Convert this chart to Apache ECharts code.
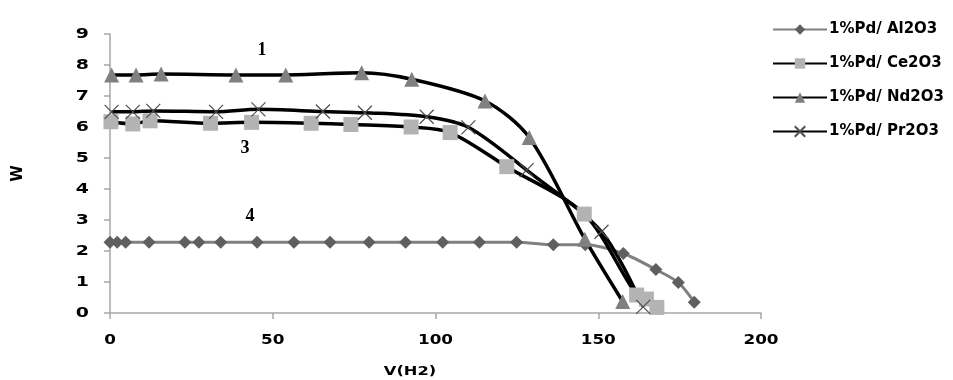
<!DOCTYPE html>
<html><head><meta charset="utf-8">
<script src="https://cdn.jsdelivr.net/npm/echarts@6/dist/echarts.min.js"></script>
<style>html,body{margin:0;padding:0;background:#fff}#c{width:953px;height:380px}</style>
</head><body><div id="c"></div>
<script>
const seriesNames = ['1%Pd/ Al2O3', '1%Pd/ Ce2O3', '1%Pd/ Nd2O3', '1%Pd/ Pr2O3'];
const alX = [0, 2.2, 4.8, 12, 23, 27.3, 34, 45.2, 56.5, 67.6, 79.6, 90.8, 102.2, 113.5, 124.9, 136.2, 146, 157.7, 167.7, 174.6, 179.5];
const alY = [2.28, 2.28, 2.28, 2.28, 2.28, 2.28, 2.28, 2.28, 2.28, 2.28, 2.28, 2.28, 2.28, 2.28, 2.28, 2.2, 2.2, 1.92, 1.4, 0.98, 0.35];
const ceX = [0.3, 7.0, 12.3, 30.9, 43.5, 61.8, 74.0, 92.5, 104.5, 121.9, 145.7, 161.8, 164.8, 168];
const ceY = [6.17, 6.1, 6.2, 6.12, 6.15, 6.12, 6.08, 6.0, 5.82, 4.72, 3.19, 0.58, 0.45, 0.18];
const ndX = [0.5, 8.0, 15.7, 38.7, 54.0, 77.3, 92.7, 115.2, 128.8, 145.9, 157.5];
const ndY = [7.68, 7.68, 7.71, 7.68, 7.68, 7.75, 7.54, 6.84, 5.66, 2.38, 0.37];
const prX = [0.5, 7.0, 13.3, 32.6, 45.6, 65.4, 78.3, 97.3, 110.1, 128.0, 151.0, 163.8];
const prY = [6.49, 6.49, 6.52, 6.49, 6.57, 6.5, 6.46, 6.33, 5.99, 4.61, 2.62, 0.2];
const xTicks = [0, 50, 100, 150, 200];
const yTicks = [0, 1, 2, 3, 4, 5, 6, 7, 8, 9];
const xName = 'V(H2)';
const yName = 'W';
const curveLabels = ['1', '3', '4'];

const pairs = (xs, ys) => xs.map((x, i) => [x, ys[i]]);
const chart = echarts.init(document.getElementById('c'), null, {renderer: 'canvas'});
const bold = {fontFamily: 'DejaVu Sans', fontWeight: 'bold', color: '#000'};
const crossPath = 'path://M0,0L10,10M10,0L0,10';
const tickFont = 'bold 14px "DejaVu Sans"';

chart.setOption({
  animation: false,
  grid: {left: 110, right: 192, top: 34, bottom: 67, containLabel: false, outerBoundsMode: 'none'},
  xAxis: {
    type: 'value', min: xTicks[0], max: xTicks[xTicks.length - 1], interval: 50,
    axisLine: {lineStyle: {color: '#a6a6a6', width: 1.5}},
    axisTick: {show: true, length: 6, lineStyle: {color: '#a6a6a6', width: 1.5}},
    splitLine: {show: false},
    axisLabel: {show: false}
  },
  yAxis: {
    type: 'value', min: yTicks[0], max: yTicks[yTicks.length - 1], interval: 1,
    name: yName, nameLocation: 'middle', nameGap: 84, nameRotate: 90,
    nameTextStyle: Object.assign({fontSize: 15}, bold),
    axisLine: {show: true, lineStyle: {color: '#a6a6a6', width: 1.5}},
    axisTick: {show: true, length: 6, lineStyle: {color: '#a6a6a6', width: 1.5}},
    splitLine: {show: false},
    axisLabel: {show: false}
  },
  legend: {
    orient: 'vertical', left: 767, top: 17, itemGap: 19,
    itemWidth: 54, itemHeight: 13,
    textStyle: Object.assign({fontSize: 15, padding: [0, 0, 0, -3]}, bold),
    data: seriesNames
  },
  series: [
    {name: seriesNames[0], type: 'line', smooth: 0.3, data: pairs(alX, alY),
     symbol: 'diamond', symbolSize: 13, showAllSymbol: true,
     lineStyle: {color: '#808080', width: 3}, itemStyle: {color: '#5f5f5f'}},
    {name: seriesNames[1], type: 'line', smooth: 0.3, data: pairs(ceX, ceY),
     symbol: 'rect', symbolSize: 15, showAllSymbol: true,
     lineStyle: {color: '#000', width: 3.5}, itemStyle: {color: '#b3b3b3'}},
    {name: seriesNames[2], type: 'line', smooth: 0.3, data: pairs(ndX, ndY),
     symbol: 'triangle', symbolSize: 15, showAllSymbol: true,
     lineStyle: {color: '#000', width: 3.5}, itemStyle: {color: '#808080'}},
    {name: seriesNames[3], type: 'line', smooth: 0.3, data: pairs(prX, prY),
     symbol: crossPath, symbolSize: 14, showAllSymbol: true,
     lineStyle: {color: '#000', width: 3.5}, itemStyle: {color: 'transparent', borderColor: '#4d4d4d', borderWidth: 1.2}}
  ]
});

// Tick labels drawn through the chart's own scale (convertToPixel), horizontally stretched like the reference
const g = [];
xTicks.forEach(v => {
  const p = chart.convertToPixel({gridIndex: 0}, [v, 0]);
  g.push({type: 'text', x: p[0], y: p[1] + 27, scaleX: 1.2,
    style: {text: String(v), font: tickFont, fill: '#000', textAlign: 'center', textVerticalAlign: 'middle'}});
});
yTicks.forEach(v => {
  const p = chart.convertToPixel({gridIndex: 0}, [0, v]);
  g.push({type: 'text', x: p[0] - 21, y: p[1], scaleX: 1.35,
    style: {text: String(v), font: tickFont, fill: '#000', textAlign: 'right', textVerticalAlign: 'middle'}});
});
g.push({type: 'text', x: 410, y: 372, scaleX: 1.25,
  style: {text: xName, font: 'bold 13px "DejaVu Sans"', fill: '#000', textAlign: 'center', textVerticalAlign: 'middle'}});
const serif = 'bold 18px "Liberation Serif"';
g.push({type: 'text', x: 262, y: 50, style: {text: curveLabels[0], font: serif, fill: '#000', textAlign: 'center', textVerticalAlign: 'middle'}});
g.push({type: 'text', x: 245, y: 148, style: {text: curveLabels[1], font: serif, fill: '#000', textAlign: 'center', textVerticalAlign: 'middle'}});
g.push({type: 'text', x: 250, y: 216, style: {text: curveLabels[2], font: serif, fill: '#000', textAlign: 'center', textVerticalAlign: 'middle'}});
chart.setOption({graphic: g});
</script></body></html>
